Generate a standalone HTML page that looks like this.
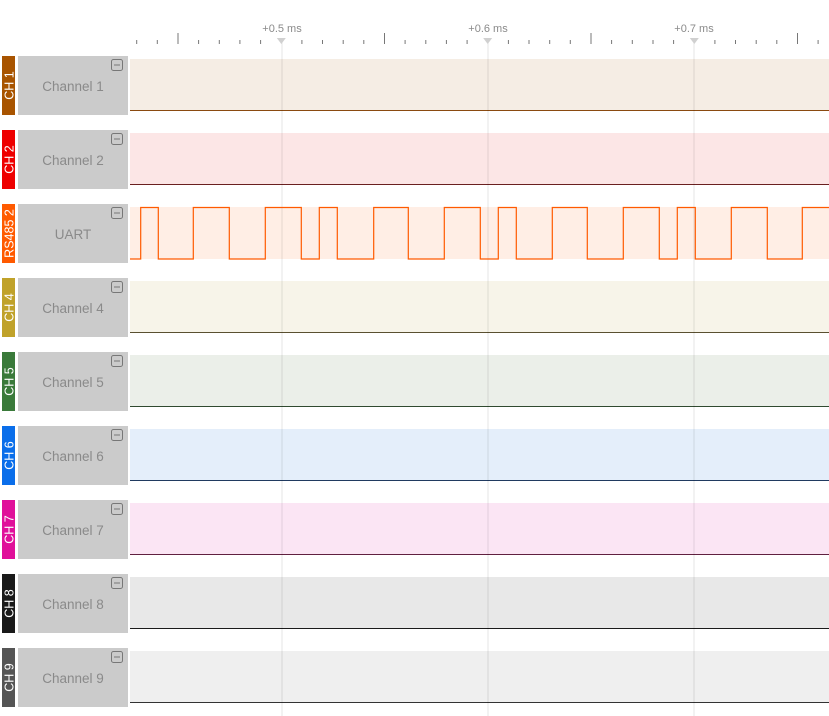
<!DOCTYPE html>
<html><head><meta charset="utf-8"><style>
html,body{margin:0;padding:0;background:#fff;width:829px;height:716px;overflow:hidden}
svg{display:block}
text{font-family:"Liberation Sans",sans-serif}
</style></head><body>
<svg id="s" width="829" height="716" xmlns="http://www.w3.org/2000/svg"></svg>
<script>
const s=document.getElementById('s');let h='';
const rows=[
['CH 1','Channel 1','#a85400','#f5ede4','#8a4a10'],
['CH 2','Channel 2','#ee0000','#fce6e6','#6a2020'],
['RS485 2','UART','#ff5a00','#ffeee5','#ff5a00'],
['CH 4','Channel 4','#c0a22a','#f7f4e9','#5a5030'],
['CH 5','Channel 5','#3a7a3a','#ebefe9','#304a30'],
['CH 6','Channel 6','#0a6eea','#e4eefa','#203a60'],
['CH 7','Channel 7','#e0109a','#fbe5f4','#602040'],
['CH 8','Channel 8','#1a1a1a','#e8e8e8','#1a1a1a'],
['CH 9','Channel 9','#555555','#efefef','#333333']];
rows.forEach((r,i)=>{const t=56+74*i;
h+=`<rect x="130" y="${t+3}" width="699" height="52" fill="${r[3]}"/>`;
if(i!=2)h+=`<line x1="130" y1="${t+54.5}" x2="829" y2="${t+54.5}" stroke="${r[4]}" stroke-width="1"/>`;
h+=`<rect x="2" y="${t}" width="13" height="59" fill="${r[2]}"/>`;
h+=`<text transform="translate(13.5,${t+29.5}) rotate(-90)" text-anchor="middle" font-size="12.5" fill="#fff">${r[0]}</text>`;
h+=`<rect x="18" y="${t}" width="110" height="59" fill="#cbcbcb"/>`;
h+=`<text x="73" y="${t+35}" text-anchor="middle" font-size="13.5" fill="#8a8a8a">${r[1]}</text>`;
h+=`<rect x="111.5" y="${t+3.5}" width="11" height="11" rx="2" fill="none" stroke="#777" stroke-width="1"/><line x1="114" y1="${t+9}" x2="120" y2="${t+9}" stroke="#777"/>`;
});
// grid lines on top, translucent
[282,488,694].forEach(x=>{h+=`<line x1="${x}" y1="40" x2="${x}" y2="716" stroke="#000" stroke-opacity="0.1" stroke-width="1"/>`;});
// UART waveform
const tr=[140.7,158.3,193.3,229.3,265.3,301.3,319.3,337.3,373.7,408.3,444.3,480.3,498.3,516.3,552.3,587.3,623.3,659.3,677.3,695.3,731.3,767.3,802.3];
const hi=207.5,lo=259;let y=lo,p=`M130,${lo}`;
tr.forEach(x=>{p+=` H${x}`;y=(y==lo?hi:lo);p+=` V${y}`;});p+=' H829';
h+=`<path d="${p}" fill="none" stroke="#ff5a00" stroke-width="1.2"/>`;
// ticks
for(let i=0;i<34;i++){const x=(136.7+20.65*i).toFixed(1);
if(i%10==7){h+=`<polygon points="${x-4.5},38 ${+x+4.5},38 ${x},44" fill="#d0d0d0"/>`;}
else if((i-2)%5==0)h+=`<line x1="${x}" y1="33" x2="${x}" y2="44" stroke="#777"/>`;
else h+=`<line x1="${x}" y1="40" x2="${x}" y2="44" stroke="#777"/>`;}
[[282,'+0.5 ms'],[488,'+0.6 ms'],[694,'+0.7 ms']].forEach(a=>{h+=`<text x="${a[0]}" y="32" text-anchor="middle" font-size="11" fill="#8a8a8a">${a[1]}</text>`;});
s.innerHTML=h;
</script>
</body></html>
